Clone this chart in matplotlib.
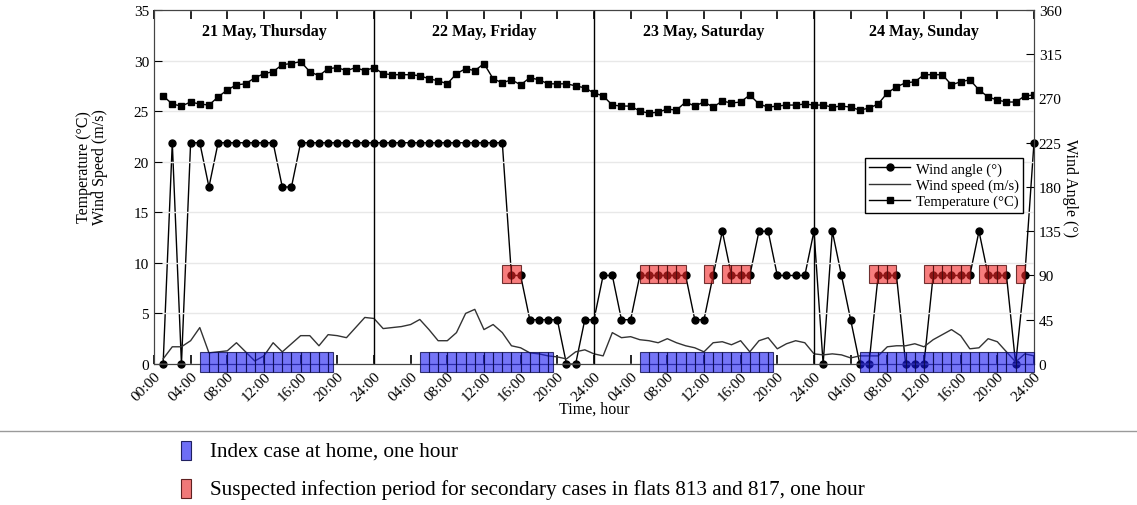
import numpy as np
import matplotlib
matplotlib.use('Agg')
import matplotlib.pyplot as plt
from matplotlib.patches import Rectangle
from matplotlib.lines import Line2D

plt.rcParams['font.family'] = ['Liberation Serif', 'DejaVu Serif']

# hourly data, hour 1 .. 96 (21-24 May)
hours = np.arange(1, 97)
temperature = [
    26.5, 25.7, 25.5, 25.9, 25.7, 25.6, 26.4, 27.1, 27.6, 27.7, 28.3, 28.7,
    28.9, 29.6, 29.7, 29.9, 28.9, 28.5, 29.2, 29.3, 29.0, 29.3, 29.0, 29.3,
    28.7, 28.6, 28.6, 28.6, 28.5, 28.2, 28.0, 27.7, 28.7, 29.2, 29.0, 29.7,
    28.2, 27.8, 28.1, 27.6, 28.3, 28.1, 27.7, 27.7, 27.7, 27.5, 27.3, 26.8,
    26.5, 25.6, 25.5, 25.5, 25.0, 24.8, 24.9, 25.2, 25.1, 25.9, 25.5, 25.9,
    25.4, 26.0, 25.8, 25.9, 26.6, 25.7, 25.4, 25.5, 25.6, 25.6, 25.7, 25.6,
    25.6, 25.4, 25.5, 25.4, 25.1, 25.3, 25.7, 26.8, 27.4, 27.8, 27.9, 28.6,
    28.6, 28.6, 27.6, 27.9, 28.1, 27.1, 26.4, 26.1, 25.9, 25.9, 26.5, 26.6,
]
wind_speed = [
    0.5, 1.7, 1.7, 2.3, 3.6, 1.1, 1.2, 1.3, 2.1, 1.2, 0.3, 0.8,
    2.1, 1.2, 2.0, 2.8, 2.8, 1.8, 2.9, 2.8, 2.6, 3.6, 4.6, 4.5,
    3.5, 3.6, 3.7, 3.9, 4.4, 3.4, 2.3, 2.3, 3.1, 5.0, 5.4, 3.4,
    3.9, 3.1, 1.8, 1.6, 1.1, 1.0, 0.8, 0.7, 0.5, 1.2, 1.4, 1.0,
    0.8, 3.1, 2.6, 2.7, 2.4, 2.3, 2.1, 2.5, 2.1, 1.8, 1.6, 1.2,
    2.1, 2.2, 1.9, 2.3, 1.2, 2.3, 2.6, 1.5, 2.0, 2.3, 2.1, 1.0,
    0.9, 1.0, 0.9, 0.6, 0.8, 0.8, 0.8, 1.7, 1.8, 1.8, 2.0, 1.7,
    2.4, 2.9, 3.4, 2.8, 1.5, 1.6, 2.5, 2.2, 1.2, 0.2, 1.0, 0.8,
]
wind_angle = [
    0, 225, 0, 225, 225, 180, 225, 225, 225, 225, 225, 225,
    225, 180, 180, 225, 225, 225, 225, 225, 225, 225, 225, 225,
    225, 225, 225, 225, 225, 225, 225, 225, 225, 225, 225, 225,
    225, 225, 90, 90, 45, 45, 45, 45, 0, 0, 45, 45,
    90, 90, 45, 45, 90, 90, 90, 90, 90, 90, 45, 45,
    90, 135, 90, 90, 90, 135, 135, 90, 90, 90, 90, 135,
    0, 135, 90, 45, 0, 0, 90, 90, 90, 0, 0, 0,
    90, 90, 90, 90, 90, 135, 90, 90, 90, 0, 90, 225,
]

day_titles = ['21 May, Thursday', '22 May, Friday', '23 May, Saturday', '24 May, Sunday']
home_start = [5, 29, 53, 77]
home_end = [19.5, 43.5, 67.5, 96]
infect_start = [38, 53, 60, 62, 78, 84, 90, 94]
infect_end = [40, 58, 61, 65, 81, 89, 93, 95]

tick_hours = np.arange(0, 97, 4)
tick_labels = ['%02d:00' % (24 if (h > 0 and h % 24 == 0) else h % 24) for h in tick_hours]

fig = plt.figure(figsize=(11.37, 5.06), dpi=100)
ax = fig.add_axes([0.1354, 0.2787, 0.774, 0.6996])
ax2 = ax.twinx()
ax.set_zorder(ax2.get_zorder() + 1)
ax.patch.set_visible(False)

# wind angle on the right axis
la, = ax2.plot(hours, wind_angle, '-o', color='k', ms=5, lw=1, clip_on=False)
ax2.set_ylim(0, 360)
ax2.set_yticks(np.arange(0, 361, 45))
ax2.tick_params(axis='y', direction='in', length=6, labelsize=11)
ax2.set_ylabel('Wind Angle (°)', rotation=270, fontsize=11.5)
ax2.yaxis.set_label_coords(1.05, 0.5)

ls, = ax.plot(hours, wind_speed, '-', color='#333333', lw=1)
lt, = ax.plot(hours, temperature, '-s', color='k', ms=5, lw=1)

# hour boxes
for s, e in zip(home_start, home_end):
    for h in np.arange(s, e, 1):
        ax.add_patch(Rectangle((h, -0.8), min(1, e - h), 2.0, facecolor=(0.1, 0.1, 0.95, 0.6),
                               edgecolor=(0.05, 0.05, 0.3, 0.8), lw=0.8, clip_on=False, zorder=5))
for s, e in zip(infect_start, infect_end):
    for h in np.arange(s, e, 1):
        ax.add_patch(Rectangle((h, 8.0), min(1, e - h), 1.8, facecolor=(0.95, 0.15, 0.15, 0.6),
                               edgecolor=(0.3, 0.05, 0.05, 0.8), lw=0.8, clip_on=False, zorder=5))

for i, title in enumerate(day_titles):
    if i > 0:
        ax.axvline(24 * i, color='k', lw=1)
    ax.text(24 * i + 12, 32.9, title, ha='center', va='center', fontsize=11.5, fontweight='bold')

ax.set_xlim(0, 96)
ax.set_ylim(0, 35)
ax.set_yticks(np.arange(0, 36, 5))
ax.set_xticks(tick_hours)
ax.set_xticklabels(tick_labels, rotation=45, ha='right', rotation_mode='anchor')
ax.tick_params(axis='x', direction='in', top=True, length=6.5, width=1.2, labelsize=11, pad=4)
ax.tick_params(axis='y', direction='in', right=False, length=6, labelsize=11)
ax.grid(axis='y', color='#e8e8e8', lw=1)
ax.set_xlabel('Time, hour', fontsize=11.5, labelpad=-2)
ax.set_ylabel('Temperature (°C)\nWind Speed (m/s)', fontsize=11.5, linespacing=1.0)
ax.yaxis.set_label_coords(-0.052, 0.56)
for sp in list(ax.spines.values()) + list(ax2.spines.values()):
    sp.set_color('#444444')

ax.legend([la, ls, lt], ['Wind angle (°)', 'Wind speed (m/s)', 'Temperature (°C)'],
          loc='upper right', bbox_to_anchor=(0.996, 0.603), fontsize=10.5,
          fancybox=False, edgecolor='k', framealpha=1, handlelength=2.8,
          labelspacing=0.2, borderpad=0.3, handletextpad=0.4)

# bottom key
fig.add_artist(Line2D([0, 1], [0.146, 0.146], color='#9a9a9a', lw=1))
fig.add_artist(Rectangle((0.159, 0.089), 0.0088, 0.0375, facecolor='#6e6ef5', edgecolor='#202060', lw=0.8))
fig.text(0.1847, 0.1067, 'Index case at home, one hour', fontsize=15.2, va='center')
fig.add_artist(Rectangle((0.159, 0.014), 0.0088, 0.0375, facecolor='#f07878', edgecolor='#602020', lw=0.8))
fig.text(0.1847, 0.0316, 'Suspected infection period for secondary cases in flats 813 and 817, one hour',
         fontsize=15.2, va='center')

fig.savefig('out.png', dpi=100)
